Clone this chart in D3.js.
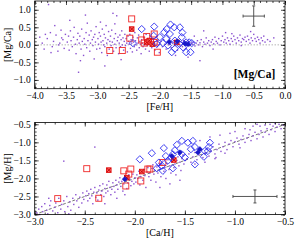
<!DOCTYPE html>
<html><head><meta charset="utf-8">
<script src="https://cdn.jsdelivr.net/npm/d3@7"></script>
<style>body{margin:0;background:#fff}svg{display:block}text{font-family:"Liberation Serif","DejaVu Serif",serif}</style>
</head><body><svg id="c" width="299" height="242"></svg>
<script>
// ---------- DATA ----------
const topXTicks=[-4.0,-3.5,-3.0,-2.5,-2.0,-1.5,-1.0,-0.5,0.0];
const topYTicks=[-1.0,-0.5,0.0,0.5,1.0];
const botXTicks=[-3.0,-2.5,-2.0,-1.5,-1.0,-0.5];
const botYTicks=[-3.0,-2.5,-2.0,-1.5,-1.0,-0.5];

// top panel: field stars [Fe/H],[Mg/Ca]
const topDots=[[-3.78,1.15],[-3.92,0.22],[-3.88,0.05],[-3.85,-0.12],[-3.80,0.18],[-3.75,0.35],[-3.72,-0.05],[-3.70,0.10],[-3.66,0.28],[-3.63,-0.18],[-3.60,0.05],[-3.58,0.42],[-3.55,0.15],[-3.53,-0.10],[-3.51,0.30],[-3.68,0.55],[-3.62,0.0],[-3.57,0.20],[-3.83,0.30],[-3.74,-0.22],
[-3.48,0.08],[-3.46,0.25],[-3.45,-0.15],[-3.43,0.40],[-3.42,0.12],[-3.40,-0.05],[-3.38,0.22],[-3.37,0.50],[-3.35,0.02],[-3.34,-0.25],[-3.32,0.15],[-3.31,0.33],[-3.30,-0.78],[-3.29,0.05],[-3.28,0.25],[-3.26,-0.12],[-3.25,0.45],[-3.24,0.10],[-3.22,-0.30],[-3.21,0.18],[-3.20,0.02],[-3.18,0.35],[-3.17,-0.08],[-3.16,0.62],[-3.15,0.12],[-3.13,0.28],[-3.12,-0.18],[-3.11,0.05],[-3.10,0.40],[-3.08,0.15],[-3.07,-0.02],[-3.06,0.22],[-3.05,-0.40],[-3.04,0.30],[-3.03,0.08],[-3.02,0.52],[-3.01,-0.12],[-3.44,0.70],[-3.27,-0.45],[-3.19,0.85],
[-2.99,0.18],[-2.98,0.02],[-2.97,0.35],[-2.96,-0.10],[-2.95,0.25],[-2.94,0.08],[-2.93,-0.22],[-2.92,0.45],[-2.91,0.12],[-2.90,0.0],[-2.89,0.30],[-2.88,-0.05],[-2.87,0.20],[-2.86,0.55],[-2.85,0.05],[-2.84,-0.30],[-2.83,0.15],[-2.82,0.38],[-2.81,-0.12],[-2.80,0.10],[-2.79,0.25],[-2.78,-0.02],[-2.77,0.42],[-2.76,0.08],[-2.75,0.90],[-2.74,-0.18],[-2.73,0.18],[-2.72,0.02],[-2.71,0.32],[-2.70,-0.08],[-2.69,0.83],[-2.68,0.12],[-2.67,0.22],[-2.66,-0.25],[-2.65,0.05],[-2.64,0.28],[-2.63,-0.05],[-2.62,0.15],[-2.61,0.40],[-2.60,0.0],[-2.59,0.20],[-2.58,-0.15],[-2.57,0.10],[-2.56,0.30],[-2.55,-0.02],[-2.54,0.18],[-2.53,0.05],[-2.52,-0.20],[-2.51,0.25],[-2.50,0.10],[-2.88,-0.60],[-2.72,0.60],[-2.62,-0.42],[-2.95,0.65],
[-2.49,0.02],[-2.48,0.30],[-2.47,-0.10],[-2.46,0.15],[-2.45,0.05],[-2.44,-0.20],[-2.43,0.22],[-2.42,0.08],[-2.41,-0.05],[-2.40,0.35],[-2.39,0.12],[-2.38,0.0],[-2.37,-0.15],[-2.36,0.20],[-2.35,0.05],[-2.34,0.28],[-2.33,-0.08],[-2.32,0.10],[-2.31,0.02],[-2.30,-0.25],[-2.29,0.15],[-2.28,0.05],[-2.27,-0.05],[-2.26,0.22],[-2.25,0.0],[-2.24,0.12],[-2.23,-0.12],[-2.22,0.30],[-2.21,0.05],[-2.20,-0.02],[-2.19,0.18],[-2.18,0.08],[-2.17,-0.18],[-2.16,0.10],[-2.15,0.0],[-2.14,0.25],[-2.13,-0.08],[-2.12,0.05],[-2.11,0.15],[-2.10,-0.02],[-2.09,0.08],[-2.08,-0.15],[-2.07,0.20],[-2.06,0.02],[-2.05,0.10],[-2.04,-0.05],[-2.03,0.12],[-2.02,0.0],[-2.01,-0.22],[-2.00,0.06],
[-1.98,0.10],[-1.96,-0.05],[-1.94,0.15],[-1.92,0.02],[-1.90,-0.12],[-1.88,0.08],[-1.86,0.0],[-1.84,0.18],[-1.82,-0.08],[-1.80,0.05],[-1.78,0.12],[-1.76,-0.02],[-1.74,0.06],[-1.72,-0.15],[-1.70,0.10],[-1.68,0.0],[-1.66,0.08],[-1.64,-0.05],[-1.62,0.12],[-1.60,0.02],[-1.58,-0.10],[-1.56,0.05],[-1.54,0.10],[-1.52,-0.02],[-1.50,0.06],[-1.75,-0.30],[-1.55,-0.35],
[-1.48,0.02],[-1.46,0.08],[-1.44,-0.03],[-1.42,0.05],[-1.40,0.12],[-1.38,0.0],[-1.36,0.06],[-1.34,0.15],[-1.32,-0.05],[-1.30,0.08],[-1.28,0.02],[-1.26,0.20],[-1.24,0.05],[-1.22,0.12],[-1.20,-0.02],[-1.18,0.08],[-1.16,0.15],[-1.14,0.03],[-1.12,0.22],[-1.10,0.10],[-1.08,0.05],[-1.06,0.18],[-1.04,0.0],[-1.02,0.12],[-1.00,0.25],[-0.98,0.08],[-0.96,0.15],[-0.94,0.05],[-0.92,0.20],[-0.90,0.12],[-0.88,0.02],[-0.86,0.18],[-0.84,0.10],[-0.82,0.25],[-0.80,0.15],[-0.78,0.05],[-0.76,0.20],[-0.74,0.12],[-0.72,0.28],[-0.70,0.08],[-0.68,0.18],[-0.66,0.15],[-0.64,0.22],[-0.62,0.10],[-0.60,0.25],[-0.58,0.15],[-0.56,0.05],[-0.54,0.20],[-0.52,0.12],[-0.50,0.30],[-0.48,0.18],[-0.46,0.10],[-0.44,0.22],[-0.42,0.15],[-0.40,0.05],[-0.38,0.20],[-0.36,0.12],[-0.34,0.25],[-0.32,0.08],[-0.28,0.15],[-0.24,0.10],[-0.18,0.20],[-1.30,0.40],[-0.95,0.35],[-1.15,-0.12],[-0.70,-0.02],[-0.85,0.32],[-0.55,0.38],[-1.45,0.25],[-1.36,-0.45]];
const topRedOpen=[[-2.45,0.74],[-2.48,0.19],[-2.80,-0.16],[-2.60,-0.16],[-2.29,0.14],[-2.21,0.24],[-2.09,0.31],[-2.09,0.07],[-2.04,-0.21],[-2.25,0.05],[-2.15,0.10]];
const topRedFill=[[-2.45,0.45],[-2.21,0.07],[-2.17,0.12],[-1.73,0.07],[-2.12,0.02]];
const topBlueOpen=[[-2.29,0.45],[-2.43,0.05],[-2.09,0.52],[-1.83,0.58],[-1.77,0.50],[-1.68,0.50],[-1.93,0.36],[-2.00,0.22],[-1.90,0.17],[-1.84,0.31],[-1.64,0.35],[-1.65,0.22],[-1.76,0.12],[-2.05,0.03],[-1.95,0.05],[-1.87,-0.02],[-1.81,-0.21],[-1.76,-0.11],[-1.58,-0.21],[-1.51,-0.21],[-1.58,0.07],[-1.53,0.07],[-1.49,0.05],[-1.69,0.03],[-1.63,-0.07],[-2.10,0.26],[-1.89,0.45]];
const topBlueFill=[[-1.60,0.04],[-1.85,0.08],[-1.72,0.10],[-1.55,0.02]];

// bottom panel: [Ca/H],[Mg/H]
const botDots=[[-2.98,-2.95],[-2.96,-2.85],[-2.95,-3.0],[-2.93,-2.78],[-2.92,-2.92],[-2.90,-2.70],[-2.88,-2.88],[-2.87,-2.98],[-2.85,-2.75],[-2.84,-2.62],[-2.82,-2.90],[-2.80,-2.80],[-2.79,-2.68],[-2.77,-2.95],[-2.76,-2.55],[-2.74,-2.85],[-2.73,-2.72],[-2.71,-2.62],[-2.70,-2.92],[-2.68,-2.50],[-2.67,-2.78],[-2.65,-2.65],[-2.64,-2.88],[-2.62,-2.55],[-2.61,-2.72],[-2.59,-2.45],[-2.58,-2.62],[-2.56,-2.80],[-2.55,-2.52],[-2.53,-2.68],[-2.52,-2.40],[-2.51,-2.58],[-2.71,-1.52],[-2.86,-2.55],[-2.66,-2.98],
[-2.49,-2.48],[-2.48,-2.35],[-2.47,-2.62],[-2.46,-2.42],[-2.45,-2.55],[-2.44,-2.30],[-2.43,-2.48],[-2.42,-2.70],[-2.41,-2.38],[-2.40,-2.25],[-2.39,-2.52],[-2.38,-2.40],[-2.37,-2.60],[-2.36,-2.32],[-2.35,-2.20],[-2.34,-2.45],[-2.33,-2.35],[-2.32,-2.15],[-2.31,-2.50],[-2.30,-2.28],[-2.29,-2.40],[-2.28,-2.18],[-2.27,-2.35],[-2.26,-2.08],[-2.25,-2.25],[-2.24,-2.45],[-2.23,-2.30],[-2.22,-2.12],[-2.21,-2.22],[-2.20,-2.38],[-2.19,-2.05],[-2.18,-2.18],[-2.17,-2.30],[-2.16,-2.10],[-2.15,-1.98],[-2.14,-2.22],[-2.13,-2.08],[-2.12,-2.35],[-2.11,-2.15],[-2.10,-1.95],[-2.09,-2.05],[-2.08,-2.28],[-2.07,-2.12],[-2.06,-1.90],[-2.05,-2.02],[-2.04,-2.20],[-2.03,-2.08],[-2.02,-1.88],[-2.01,-2.15],[-2.00,-1.98],[-2.40,-1.13],[-2.30,-2.70],[-2.18,-2.55],[-2.10,-2.45],
[-1.99,-2.10],[-1.98,-1.90],[-1.97,-2.00],[-1.96,-1.80],[-1.95,-2.18],[-1.94,-1.95],[-1.93,-1.85],[-1.92,-2.05],[-1.91,-1.75],[-1.90,-1.92],[-1.89,-2.25],[-1.88,-1.82],[-1.87,-1.70],[-1.86,-1.95],[-1.85,-1.85],[-1.84,-2.05],[-1.83,-1.72],[-1.82,-1.62],[-1.81,-1.88],[-1.80,-1.78],[-1.79,-2.10],[-1.78,-1.68],[-1.77,-1.85],[-1.76,-1.58],[-1.75,-1.75],[-1.74,-1.95],[-1.73,-1.62],[-1.72,-1.52],[-1.71,-1.80],[-1.70,-1.70],[-1.69,-2.00],[-1.68,-1.58],[-1.67,-1.48],[-1.66,-1.75],[-1.65,-1.65],[-1.64,-1.85],[-1.63,-1.55],[-1.62,-1.45],[-1.61,-1.70],[-1.60,-1.60],[-1.59,-1.90],[-1.58,-1.50],[-1.57,-1.40],[-1.56,-1.65],[-1.55,-1.55],[-1.54,-1.78],[-1.53,-1.45],[-1.52,-1.35],[-1.51,-1.60],[-1.50,-1.50],[-1.75,-2.25],[-1.65,-2.15],[-1.55,-2.05],
[-1.48,-1.45],[-1.46,-1.32],[-1.44,-1.55],[-1.42,-1.40],[-1.40,-1.28],[-1.38,-1.48],[-1.36,-1.35],[-1.34,-1.22],[-1.32,-1.42],[-1.30,-1.30],[-1.28,-1.18],[-1.26,-1.38],[-1.24,-1.25],[-1.22,-1.12],[-1.20,-1.32],[-1.18,-1.20],[-1.16,-1.05],[-1.14,-1.25],[-1.12,-1.12],[-1.10,-1.00],[-1.08,-1.20],[-1.06,-1.05],[-1.04,-0.95],[-1.02,-1.12],[-1.00,-0.98],[-0.98,-0.88],[-0.96,-1.05],[-0.94,-0.92],[-0.92,-0.82],[-0.90,-1.00],[-0.88,-0.88],[-0.86,-0.78],[-0.84,-0.95],[-0.82,-0.82],[-0.80,-0.72],[-0.78,-0.90],[-0.76,-0.78],[-0.74,-0.68],[-0.72,-0.85],[-0.70,-0.72],[-0.68,-0.62],[-0.66,-0.78],[-0.64,-0.65],[-0.62,-0.55],[-0.60,-0.70],[-0.58,-0.58],[-0.56,-0.50],[-0.54,-0.62],[-0.52,-0.52],[-1.30,-1.55],[-1.20,-1.45],[-1.10,-1.30],[-1.25,-0.85],[-1.05,-0.75],[-0.85,-0.65],[-0.75,-0.55],[-0.65,-0.50],[-1.40,-1.60],[-0.95,-1.15],[-1.35,-0.95],[-1.15,-0.80],[-0.70,-0.52],[-0.60,-0.48],[-0.90,-0.62],[-1.00,-0.70],[-0.82,-0.55],[-0.78,-0.50],[-1.19,-1.42]];
const botRedOpen=[[-2.77,-2.56],[-2.48,-1.73],[-2.36,-2.55],[-2.11,-1.79],[-2.09,-2.21],[-2.04,-1.74],[-2.06,-1.88],[-1.94,-2.07],[-1.87,-1.74],[-1.72,-1.56],[-1.85,-1.74]];
const botRedFill=[[-2.26,-1.77],[-2.08,-1.98],[-1.93,-1.81],[-1.61,-1.49]];
const botBlueOpen=[[-1.95,-1.47],[-1.83,-1.30],[-1.71,-1.16],[-1.69,-1.38],[-1.67,-1.51],[-1.64,-1.42],[-1.62,-1.33],[-1.58,-1.07],[-1.60,-1.22],[-1.53,-0.96],[-1.47,-1.01],[-1.42,-0.96],[-1.40,-1.13],[-1.44,-1.19],[-1.25,-1.01],[-1.26,-1.13],[-1.27,-1.24],[-1.30,-1.24],[-1.31,-1.40],[-1.40,-1.61],[-1.50,-1.42],[-1.53,-1.33],[-1.73,-1.65],[-1.72,-1.79],[-1.78,-1.72],[-1.76,-1.56],[-1.62,-1.72]];
const botBlueFill=[[-2.10,-2.02],[-1.55,-1.28],[-1.37,-1.28],[-1.35,-1.19],[-1.63,-1.38]];

// error bars: [x, y, xerr, yerr]
const topErr=[-0.5,0.82,0.17,0.29];
const botErr=[-0.8,-2.5,0.22,0.18];

// ---------- DRAW ----------
const svg=d3.select("#c");
const L=34.7,R=285;
const panels=[
 {x:d3.scaleLinear([-4,0],[L,R]),y:d3.scaleLinear([-1.25,1.25],[88.7,1]),xt:topXTicks,yt:topYTicks,
  xlab:"[Fe/H]",ylab:"[Mg/Ca]",dots:topDots,ro:topRedOpen,rf:topRedFill,bo:topBlueOpen,bf:topBlueFill,err:topErr},
 {x:d3.scaleLinear([-3,-0.5],[L,R]),y:d3.scaleLinear([-3,-0.45],[214.5,122.5]),xt:botXTicks,yt:botYTicks,
  xlab:"[Ca/H]",ylab:"[Mg/H]",dots:botDots,ro:botRedOpen,rf:botRedFill,bo:botBlueOpen,bf:botBlueFill,err:botErr}
];
const fmt=v=>(v<0?"\u2212":"")+Math.abs(v).toFixed(1);
function minors(sc){const [a,b]=sc.domain();const out=[];for(let v=Math.ceil(Math.min(a,b)*10-1e-6);v<=Math.floor(Math.max(a,b)*10+1e-6);v++)out.push(v/10);return out;}

panels.forEach((p,i)=>{
  const g=svg.append("g");
  const [y0,y1]=p.y.range();
  // reference lines
  if(i===0){
    g.append("line").attr("x1",L).attr("x2",R).attr("y1",p.y(0)).attr("y2",p.y(0))
     .attr("stroke","#777").attr("stroke-width",0.8).attr("stroke-dasharray","1,2");
  } else {
    g.append("line").attr("x1",p.x(-3)).attr("y1",p.y(-3)).attr("x2",p.x(-0.5)).attr("y2",p.y(-0.5))
     .attr("stroke","#555").attr("stroke-width",0.8).attr("stroke-dasharray","3,2");
  }
  // dots
  g.selectAll(".d").data(p.dots).join("rect").attr("x",d=>p.x(d[0])-0.65).attr("y",d=>p.y(d[1])-0.65)
   .attr("width",1.4).attr("height",1.4).attr("fill","#8a50d0");
  // red open squares
  g.selectAll(".ro").data(p.ro).join("rect").attr("x",d=>p.x(d[0])-3).attr("y",d=>p.y(d[1])-3)
   .attr("width",6).attr("height",6).attr("fill","none").attr("stroke","#f02828").attr("stroke-width",0.9);
  // red filled (square with cross)
  const rf=g.selectAll(".rf").data(p.rf).join("g").attr("transform",d=>`translate(${p.x(d[0])},${p.y(d[1])})`);
  rf.append("rect").attr("x",-2.3).attr("y",-2.3).attr("width",4.6).attr("height",4.6).attr("fill","#ff6060").attr("stroke","#e01010").attr("stroke-width",0.9);
  rf.append("path").attr("d","M-2,-2L2,2M-2,2L2,-2").attr("stroke","#c00000").attr("stroke-width",0.9);
  // blue diamonds
  g.selectAll(".bo").data(p.bo).join("path").attr("d","M0,-3.6L3.6,0L0,3.6L-3.6,0Z")
   .attr("transform",d=>`translate(${p.x(d[0])},${p.y(d[1])})`).attr("fill","none").attr("stroke","#2a2af0").attr("stroke-width",0.9);
  g.selectAll(".bf").data(p.bf).join("path").attr("d","M0,-2.6L2.6,0L0,2.6L-2.6,0Z")
   .attr("transform",d=>`translate(${p.x(d[0])},${p.y(d[1])})`).attr("fill","#1818c8").attr("stroke","#1818c8").attr("stroke-width",0.6);
  // error bar
  const e=p.err, ec="#444";
  const eg=g.append("g").attr("stroke",ec).attr("stroke-width",0.9);
  eg.append("line").attr("x1",p.x(e[0]-e[2])).attr("x2",p.x(e[0]+e[2])).attr("y1",p.y(e[1])).attr("y2",p.y(e[1]));
  eg.append("line").attr("x1",p.x(e[0])).attr("x2",p.x(e[0])).attr("y1",p.y(e[1]-e[3])).attr("y2",p.y(e[1]+e[3]));
  [[e[0]-e[2],e[1],0],[e[0]+e[2],e[1],0],[e[0],e[1]-e[3],1],[e[0],e[1]+e[3],1]].forEach(c=>{
    const cx=p.x(c[0]),cy=p.y(c[1]);
    if(c[2]===0) eg.append("line").attr("x1",cx).attr("x2",cx).attr("y1",cy-1.5).attr("y2",cy+1.5);
    else eg.append("line").attr("x1",cx-1.5).attr("x2",cx+1.5).attr("y1",cy).attr("y2",cy);
  });
  // axes: major & minor, inward, all sides
  const ax=(gen,tr,vals,size,labels)=>{
    const a=g.append("g").attr("transform",tr).call(gen.tickValues(vals).tickSize(size).tickSizeOuter(0).tickFormat(labels?fmt:""));
    a.select(".domain").remove();
    a.selectAll("line").attr("stroke","#000").attr("stroke-width",0.7);
    a.selectAll("text").attr("font-size",9.5).attr("fill","#000");
    return a;
  };
  const xa=ax(d3.axisBottom(p.x),`translate(0,${y0})`,p.xt,-4,true);
  xa.selectAll("text").attr("dy",null).attr("y",10.2);
  ax(d3.axisBottom(p.x),`translate(0,${y0})`,minors(p.x),-2,false);
  ax(d3.axisTop(p.x),`translate(0,${y1})`,p.xt,-4,false);
  ax(d3.axisTop(p.x),`translate(0,${y1})`,minors(p.x),-2,false);
  const ya=ax(d3.axisLeft(p.y),`translate(${L},0)`,p.yt,-4,true);
  ya.selectAll("text").attr("x",-4);
  ax(d3.axisLeft(p.y),`translate(${L},0)`,minors(p.y),-2,false);
  ax(d3.axisRight(p.y),`translate(${R},0)`,p.yt,-4,false);
  ax(d3.axisRight(p.y),`translate(${R},0)`,minors(p.y),-2,false);
  g.append("rect").attr("x",L).attr("y",y1).attr("width",R-L).attr("height",y0-y1)
   .attr("fill","none").attr("stroke","#000").attr("stroke-width",0.8);
  // titles
  g.append("text").attr("x",(L+R)/2).attr("y",y0+21.5).attr("text-anchor","middle").attr("font-size",10).text(p.xlab);
  g.append("text").attr("transform",`translate(10.5,${(y0+y1)/2}) rotate(-90)`).attr("text-anchor","middle").attr("font-size",10).text(p.ylab);
  if(i===0){
    g.append("text").attr("x",254.5).attr("y",78).attr("text-anchor","middle").attr("font-size",11.5).attr("font-weight","bold").text("[Mg/Ca]");
  }
});
</script></body></html>
